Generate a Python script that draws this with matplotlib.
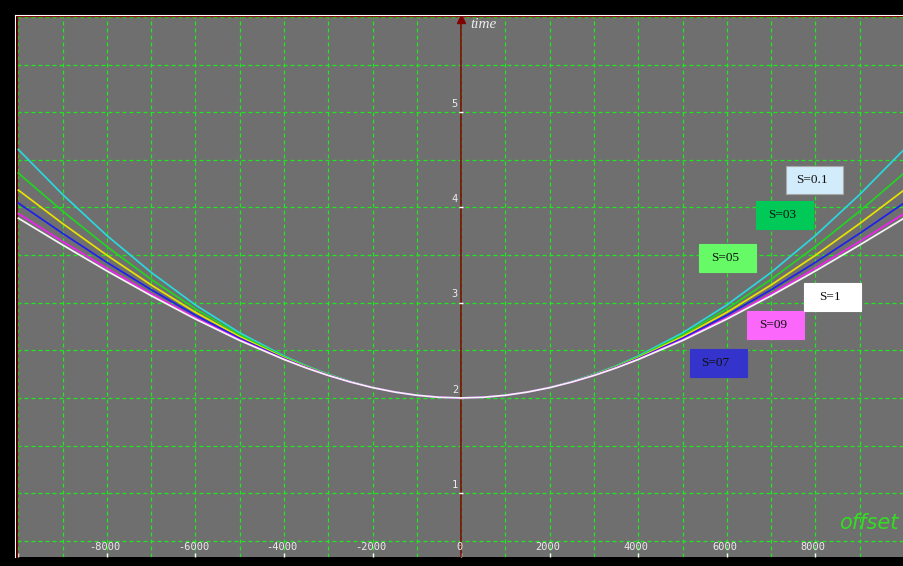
import matplotlib
matplotlib.use("Agg")
import matplotlib.pyplot as plt
import numpy as np
from matplotlib.lines import Line2D
from matplotlib.patches import Rectangle

# ---- data ----
offset = [-10000, -9000, -8000, -7000, -6000, -5000, -4000, -3500, -3000, -2500, -2000,
          -1500, -1000, -500, 0, 500, 1000, 1500, 2000, 2500, 3000, 3500, 4000,
          5000, 6000, 7000, 8000, 9000, 10000]

t_s01 = [4.608, 4.136, 3.705, 3.318, 2.976, 2.683, 2.440, 2.337, 2.249, 2.173, 2.111,
         2.062, 2.028, 2.007, 2.000, 2.007, 2.028, 2.062, 2.111, 2.173, 2.249, 2.337, 2.440,
         2.683, 2.976, 3.318, 3.705, 4.136, 4.608]
t_s03 = [4.360, 3.961, 3.589, 3.245, 2.935, 2.662, 2.431, 2.332, 2.245, 2.171, 2.110,
         2.062, 2.028, 2.007, 2.000, 2.007, 2.028, 2.062, 2.110, 2.171, 2.245, 2.332, 2.431,
         2.662, 2.935, 3.245, 3.589, 3.961, 4.360]
t_s05 = [4.182, 3.831, 3.498, 3.186, 2.899, 2.643, 2.422, 2.327, 2.243, 2.170, 2.110,
         2.062, 2.028, 2.007, 2.000, 2.007, 2.028, 2.062, 2.110, 2.170, 2.243, 2.327, 2.422,
         2.643, 2.899, 3.186, 3.498, 3.831, 4.182]
t_s07 = [4.046, 3.728, 3.423, 3.136, 2.868, 2.626, 2.414, 2.322, 2.240, 2.169, 2.109,
         2.062, 2.028, 2.007, 2.000, 2.007, 2.028, 2.062, 2.109, 2.169, 2.240, 2.322, 2.414,
         2.626, 2.868, 3.136, 3.423, 3.728, 4.046]
t_s09 = [3.935, 3.643, 3.361, 3.093, 2.841, 2.611, 2.407, 2.318, 2.237, 2.167, 2.109,
         2.062, 2.028, 2.007, 2.000, 2.007, 2.028, 2.062, 2.109, 2.167, 2.237, 2.318, 2.407,
         2.611, 2.841, 3.093, 3.361, 3.643, 3.935]
t_s1 = [3.887, 3.606, 3.333, 3.073, 2.828, 2.603, 2.404, 2.315, 2.236, 2.167, 2.108,
        2.062, 2.028, 2.007, 2.000, 2.007, 2.028, 2.062, 2.108, 2.167, 2.236, 2.315, 2.404,
        2.603, 2.828, 3.073, 3.333, 3.606, 3.887]

series_labels = ["S=0.1", "S=03", "S=05", "S=07", "S=09", "S=1"]
series_values = [t_s01, t_s03, t_s05, t_s07, t_s09, t_s1]

x_tick_values = [-8000, -6000, -4000, -2000, 0, 2000, 4000, 6000, 8000]
x_tick_labels = ["-8000", "-6000", "-4000", "-2000", "0", "2000", "4000", "6000", "8000"]
y_tick_values = [1, 2, 3, 4, 5]
y_tick_labels = ["1", "2", "3", "4", "5"]

# ---- styles ----
line_colors = ["#2ad8de", "#22d422", "#e8e200", "#1f1fee", "#f022f0", "#f4f4f4"]
box_colors = ["#d2ecfb", "#00c957", "#66fb66", "#3434cc", "#fb66fb", "#ffffff"]
box_centers = {"S=0.1": (7971, 4.285), "S=03": (7306, 3.922), "S=05": (6020, 3.465),
               "S=07": (5806, 2.362), "S=09": (7103, 2.762), "S=1": (8388, 3.061)}
BOX_W, BOX_H = 1285, 0.294
AXIS_RED = "#800000"
GRID_GREEN = "#1ee81e"

W, H = 904, 566
fig = plt.figure(figsize=(W / 100, H / 100), dpi=100, facecolor="black")
ax = fig.add_axes([17 / W, 9 / H, 887 / W, 541 / H])
ax.set_facecolor("#6f6f6f")
ax.set_xlim(-10030, 9970)
ax.set_ylim(0.33, 6.01)

# grid
ax.set_xticks(np.arange(-10000, 10001, 2000))
ax.set_xticks(np.arange(-9000, 10000, 2000), minor=True)
ax.set_yticks(np.arange(0.5, 6.01, 0.5))
ax.set_xticklabels([])
ax.set_yticklabels([])
ax.grid(True, which="major", color=GRID_GREEN, lw=0.9, linestyle=(0, (3.2, 2.4)))
ax.grid(True, which="minor", color=GRID_GREEN, lw=0.9, linestyle=(0, (3.2, 2.4)))
ax.set_axisbelow(True)
ax.tick_params(axis="y", length=0)
ax.tick_params(axis="x", which="minor", length=0)
ax.tick_params(axis="x", which="major", direction="in", length=3, width=1, color="white")

for s in ["bottom", "right"]:
    ax.spines[s].set_visible(False)
for s in ["top", "left"]:
    ax.spines[s].set_color(AXIS_RED)
    ax.spines[s].set_linewidth(1)

# white outer frame lines
fig.add_artist(Line2D([15.3 / W, 15.3 / W], [9 / H, 1 - 14.5 / H], transform=fig.transFigure,
                      color="white", lw=0.8))
fig.add_artist(Line2D([15.3 / W, 1], [1 - 14.8 / H, 1 - 14.8 / H], transform=fig.transFigure,
                      color="white", lw=0.8))

# vertical time axis
ax.axvline(0, color=AXIS_RED, lw=1.1, zorder=3)
ax.plot([0], [5.975], marker="^", markersize=6, color=AXIS_RED, clip_on=False, zorder=4)

# curves
for vals, col in zip(series_values, line_colors):
    ax.plot(offset, vals, color=col, lw=1.25, zorder=5)

# label boxes
for lab, bc in zip(series_labels, box_colors):
    cx, cy = box_centers[lab]
    ec = "#a8a8a8" if lab == "S=0.1" else bc
    ax.add_patch(Rectangle((cx - BOX_W / 2, cy - BOX_H / 2), BOX_W, BOX_H,
                           facecolor=bc, edgecolor=ec, lw=0.8, zorder=6))
    ax.text(cx - 60, cy, lab, ha="center", va="center", fontsize=9.5,
            family="Liberation Serif", color="#101010", zorder=7)

# x tick labels
for xv, xl in zip(x_tick_values, x_tick_labels):
    ax.annotate(xl, xy=(xv, 0), xycoords=("data", "axes fraction"),
                xytext=(-1.5, 7.2), textcoords="offset points",
                ha="center", va="center", fontsize=7.5, family="DejaVu Sans Mono",
                color="#ececec")

# y tick labels and marks
for yv, yl in zip(y_tick_values, y_tick_labels):
    ax.annotate(yl, xy=(0, yv), xycoords="data", xytext=(-4.5, 6),
                textcoords="offset points", ha="center", va="center",
                fontsize=7.5, family="DejaVu Sans Mono", color="#ececec")
    ax.plot([0], [yv], marker="_", markersize=3, color="white", mew=1, zorder=4)

# axis titles
fig.text(470 / W, 1 - 24 / H, "time", ha="left", va="center", fontsize=11,
         family="Liberation Serif", style="italic", color="#ececec")
fig.text(898 / W, 1 - 523 / H, "offset", ha="right", va="center", fontsize=15,
         family="DejaVu Sans", style="italic", color="#33dd22")

fig.savefig("out.png", dpi=100, facecolor="black")
